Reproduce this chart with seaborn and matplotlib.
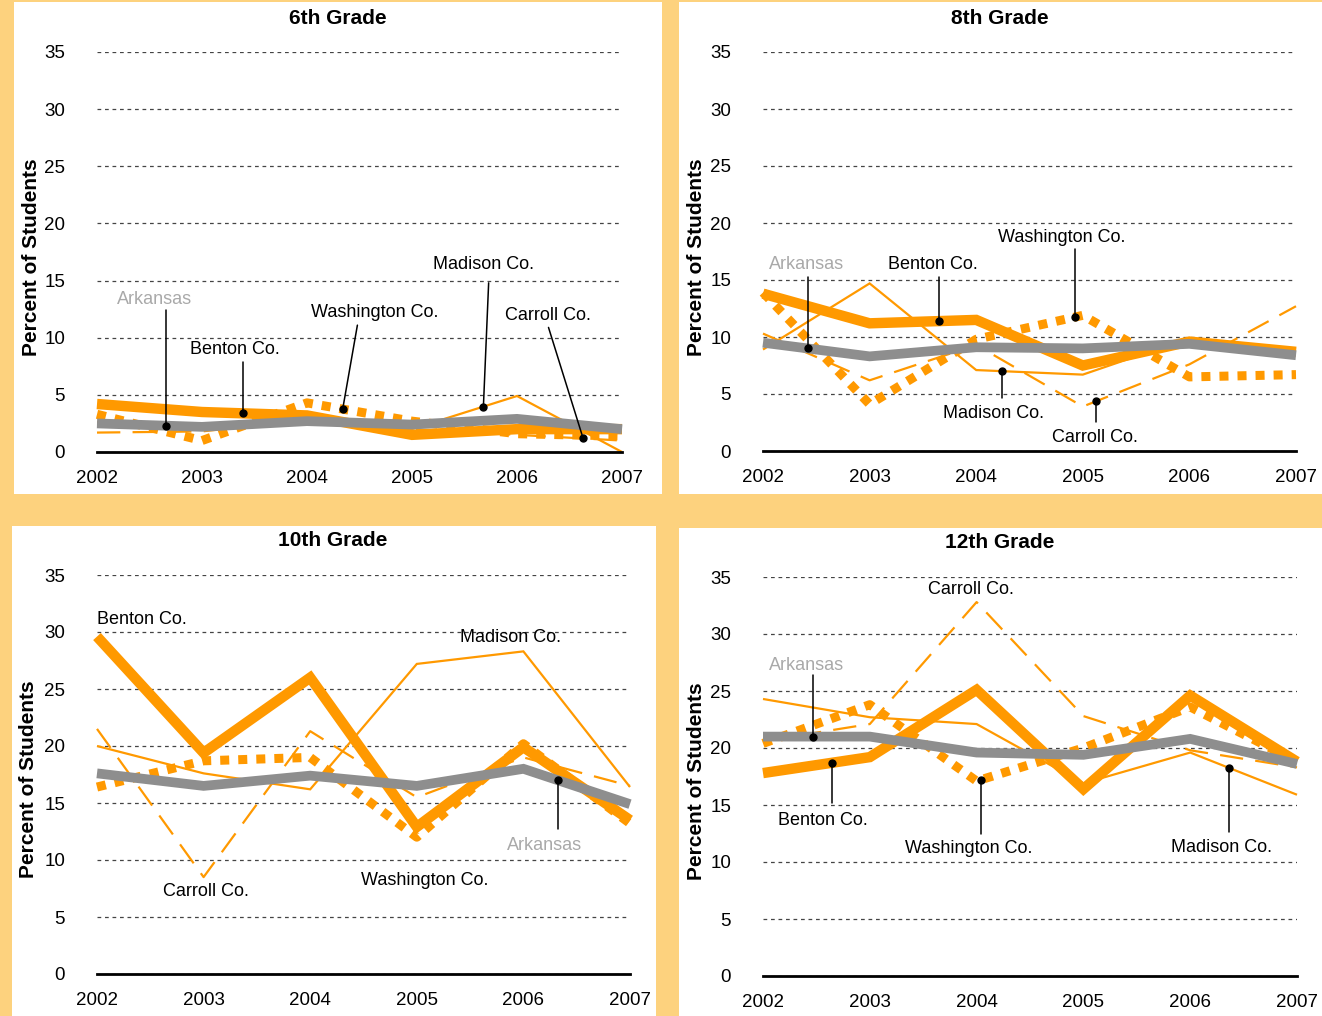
import numpy as np
import pandas as pd
import matplotlib
matplotlib.use("Agg")
import matplotlib.pyplot as plt
import seaborn as sns
from matplotlib.patches import Rectangle

# ---------------- data ----------------
years = [2002, 2003, 2004, 2005, 2006, 2007]
grades = ["6th Grade", "8th Grade", "10th Grade", "12th Grade"]

# one list per grade (6th, 8th, 10th, 12th)
benton = [
    [4.2, 3.5, 3.2, 1.5, 2.0, 2.0],
    [13.8, 11.2, 11.5, 7.5, 9.6, 8.7],
    [29.6, 19.4, 26.0, 12.9, 19.9, 13.5],
    [17.8, 19.2, 25.1, 16.4, 24.6, 18.8],
]
washington = [
    [3.3, 1.0, 4.3, 2.7, 1.6, 1.4],
    [13.9, 4.1, 9.8, 11.9, 6.5, 6.7],
    [16.4, 18.7, 19.0, 12.0, 20.2, 13.2],
    [20.4, 23.8, 17.1, 20.0, 23.6, 18.8],
]
madison = [
    [2.6, 2.4, 2.9, 2.0, 4.9, 0.0],
    [8.9, 14.7, 7.1, 6.7, 9.9, 8.9],
    [20.0, 17.6, 16.2, 27.2, 28.3, 16.4],
    [24.3, 22.7, 22.1, 16.9, 19.6, 15.9],
]
carroll = [
    [1.7, 1.8, 2.8, 2.0, 1.5, 1.0],
    [10.3, 6.2, 9.3, 3.9, 7.6, 12.7],
    [21.5, 8.5, 21.3, 15.5, 19.0, 16.5],
    [20.6, 22.1, 32.8, 22.8, 19.8, 18.3],
]
arkansas = [
    [2.5, 2.2, 2.7, 2.4, 2.9, 2.0],
    [9.5, 8.3, 9.1, 9.0, 9.4, 8.4],
    [17.6, 16.5, 17.4, 16.5, 18.0, 14.9],
    [21.0, 21.0, 19.6, 19.4, 20.8, 18.6],
]
y_ticks = [0, 5, 10, 15, 20, 25, 30, 35]

# ---------------- style ----------------
sns.set_theme(style="white")
plt.rcParams["font.family"] = ["Liberation Sans", "DejaVu Sans"]
plt.rcParams["text.color"] = "black"

ORANGE = "#FF9900"
GRAY = "#8E8E8E"
LGRAY = "#A9A9A9"
YELLOW = "#FDD27E"

W, H = 1322, 1016
fig = plt.figure(figsize=(W / 100, H / 100), dpi=100, facecolor=YELLOW)


def fx(px):
    return px / W


def fy(py):
    return 1 - py / H


# white panels (pixel boxes: x0, y0, x1, y1)
panels = [(14, 2, 662, 494), (679, 2, 1322, 494), (12, 526, 656, 1016), (679, 528, 1322, 1016)]
for (x0, y0, x1, y1) in panels:
    fig.patches.append(Rectangle((fx(x0), fy(y1)), fx(x1 - x0), (y1 - y0) / H,
                                 transform=fig.transFigure, facecolor="white",
                                 edgecolor="none", zorder=-5))

# axes pixel boxes (x_left, y_top(35), x_right, y_bottom(0))
axboxes = [(97, 52, 622, 452), (763, 52, 1296, 451), (97, 575, 630, 974), (763, 577, 1297, 976)]
titles_pos = [(338, 18), (1000, 18), (333, 540), (1000, 543)]
ylabel_pos = [(32, 257), (696, 257), (29, 779), (696, 781)]

# annotations: (label, series, text_x, text_y, pointer_end_x, pointer_end_y, dot_x) in data coords
annots = [
    [("Arkansas", "ar", 2002.55, 13.6, 2002.66, 12.4, 2002.66),
     ("Benton Co.", "be", 2003.31, 9.2, 2003.39, 7.9, 2003.39),
     ("Washington Co.", "wa", 2004.64, 12.4, 2004.48, 11.1, 2004.34),
     ("Madison Co.", "ma", 2005.68, 16.6, 2005.73, 14.8, 2005.68),
     ("Carroll Co.", "ca", 2006.29, 12.2, 2006.30, 10.9, 2006.63)],
    [("Arkansas", "ar", 2002.41, 16.6, 2002.42, 15.3, 2002.42),
     ("Benton Co.", "be", 2003.59, 16.6, 2003.65, 15.3, 2003.65),
     ("Washington Co.", "wa", 2004.80, 18.95, 2004.93, 17.7, 2004.93),
     ("Madison Co.", "ma", 2004.16, 3.5, 2004.24, 4.65, 2004.24),
     ("Carroll Co.", "ca", 2005.11, 1.4, 2005.12, 2.55, 2005.12)],
    [("Benton Co.", None, 2002.42, 31.3, None, None, None),
     ("Madison Co.", None, 2005.88, 29.7, None, None, None),
     ("Carroll Co.", None, 2003.02, 7.5, None, None, None),
     ("Washington Co.", None, 2005.07, 8.4, None, None, None),
     ("Arkansas", "ar", 2006.20, 11.5, 2006.32, 12.7, 2006.32)],
    [("Carroll Co.", None, 2003.95, 34.1, None, None, None),
     ("Arkansas", "ar", 2002.41, 27.5, 2002.47, 26.4, 2002.47),
     ("Benton Co.", "be", 2002.56, 13.9, 2002.65, 15.2, 2002.65),
     ("Washington Co.", "wa", 2003.93, 11.4, 2004.04, 12.5, 2004.04),
     ("Madison Co.", "ma", 2006.29, 11.5, 2006.36, 12.6, 2006.36)],
]

for g in range(4):
    xl, yt, xr, yb = axboxes[g]
    ax = fig.add_axes([fx(xl), fy(yb), fx(xr - xl), (yb - yt) / H])
    ax.set_facecolor("none")

    series = {"ma": madison[g], "ca": carroll[g], "wa": washington[g],
              "be": benton[g], "ar": arkansas[g]}

    common = dict(ax=ax, errorbar=None, clip_on=False, legend=False)
    sns.lineplot(x=years, y=madison[g], color=ORANGE, linewidth=1.6,
                 solid_capstyle="butt", solid_joinstyle="miter", zorder=3, **common)
    sns.lineplot(x=years, y=carroll[g], color=ORANGE, linewidth=1.6,
                 linestyle=(0, (10.5, 5.5)), dash_capstyle="butt", zorder=3, **common)
    sns.lineplot(x=years, y=washington[g], color=ORANGE, linewidth=6.5,
                 linestyle=(0, (1.0, 1.0)), dash_capstyle="butt", zorder=4, **common)
    sns.lineplot(x=years, y=benton[g], color=ORANGE, linewidth=7.5,
                 solid_capstyle="butt", solid_joinstyle="miter", zorder=5, **common)
    sns.lineplot(x=years, y=arkansas[g], color=GRAY, linewidth=7,
                 solid_capstyle="butt", solid_joinstyle="miter", zorder=6, **common)

    ax.set_xlim(2002, 2007)
    ax.set_ylim(0, 35)
    ax.set_xticks(years)
    ax.set_xticklabels([str(y) for y in years])
    ax.set_yticks(y_ticks)
    ax.set_yticklabels([str(t) for t in y_ticks])
    ax.set_xlabel("")
    ax.set_ylabel("")
    ax.tick_params(axis="both", length=0, labelsize=13.5, colors="black")
    ax.tick_params(axis="y", pad=23)
    ax.tick_params(axis="x", pad=13)
    ax.grid(axis="y", linestyle=(0, (3, 3)), color="#444444", linewidth=0.9)
    ax.grid(axis="x", visible=False)
    for s in ["top", "left", "right"]:
        ax.spines[s].set_visible(False)
    ax.spines["bottom"].set_color("black")
    ax.spines["bottom"].set_linewidth(2)
    ax.spines["bottom"].set_zorder(7)

    for (lab, key, tx, ty, px, py, dx) in annots[g]:
        col = LGRAY if lab == "Arkansas" else "black"
        ax.text(tx, ty - 0.22, lab, ha="center", va="center", fontsize=13, color=col, zorder=9)
        if key is not None:
            dy = float(np.interp(dx, years, series[key]))
            ax.plot([px, dx], [py, dy], color="black", lw=1.1, zorder=8, clip_on=False)
            ax.plot([dx], [dy], "o", color="black", ms=5, zorder=9, clip_on=False)

    tx, ty = titles_pos[g]
    fig.text(fx(tx), fy(ty), grades[g], ha="center", va="center",
             fontsize=15, fontweight="bold", color="black")
    lx, ly = ylabel_pos[g]
    fig.text(fx(lx), fy(ly), "Percent of Students", ha="center", va="center",
             rotation=90, fontsize=15, fontweight="bold", color="black")

fig.savefig("out.png", dpi=100, facecolor=YELLOW)
